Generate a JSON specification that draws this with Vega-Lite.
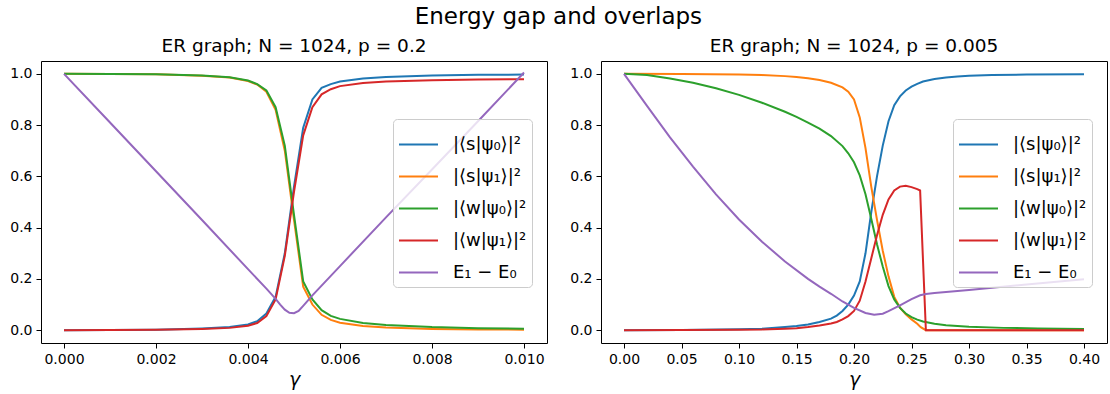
{
  "$schema": "https://vega.github.io/schema/vega-lite/v6.json",
  "padding": {"left": 9, "top": 6, "right": 0, "bottom": 0},
  "title": {"text": "Energy gap and overlaps", "fontSize": 23, "fontWeight": "normal", "font": "DejaVu Sans", "color": "#000", "anchor": "middle", "offset": 7},
  "datasets": {
    "left": [
      {"g":0,"v":0,"s":"s0"},{"g":0.001,"v":0.0005,"s":"s0"},{"g":0.002,"v":0.002,"s":"s0"},{"g":0.003,"v":0.007,"s":"s0"},{"g":0.0036,"v":0.012,"s":"s0"},{"g":0.004,"v":0.022,"s":"s0"},{"g":0.0042,"v":0.035,"s":"s0"},{"g":0.0044,"v":0.065,"s":"s0"},{"g":0.0046,"v":0.13,"s":"s0"},{"g":0.0048,"v":0.3,"s":"s0"},{"g":0.005,"v":0.56,"s":"s0"},{"g":0.0052,"v":0.79,"s":"s0"},{"g":0.0054,"v":0.9,"s":"s0"},{"g":0.0056,"v":0.945,"s":"s0"},{"g":0.0058,"v":0.96,"s":"s0"},{"g":0.006,"v":0.97,"s":"s0"},{"g":0.0065,"v":0.982,"s":"s0"},{"g":0.007,"v":0.988,"s":"s0"},{"g":0.008,"v":0.993,"s":"s0"},{"g":0.009,"v":0.996,"s":"s0"},{"g":0.01,"v":0.997,"s":"s0"},
      {"g":0,"v":1,"s":"s1"},{"g":0.001,"v":0.9995,"s":"s1"},{"g":0.002,"v":0.998,"s":"s1"},{"g":0.003,"v":0.992,"s":"s1"},{"g":0.0036,"v":0.986,"s":"s1"},{"g":0.004,"v":0.972,"s":"s1"},{"g":0.0042,"v":0.958,"s":"s1"},{"g":0.0044,"v":0.93,"s":"s1"},{"g":0.0046,"v":0.86,"s":"s1"},{"g":0.0048,"v":0.7,"s":"s1"},{"g":0.005,"v":0.43,"s":"s1"},{"g":0.0052,"v":0.17,"s":"s1"},{"g":0.0054,"v":0.1,"s":"s1"},{"g":0.0056,"v":0.06,"s":"s1"},{"g":0.0058,"v":0.04,"s":"s1"},{"g":0.006,"v":0.029,"s":"s1"},{"g":0.0065,"v":0.016,"s":"s1"},{"g":0.007,"v":0.01,"s":"s1"},{"g":0.008,"v":0.005,"s":"s1"},{"g":0.009,"v":0.003,"s":"s1"},{"g":0.01,"v":0.002,"s":"s1"},
      {"g":0,"v":1,"s":"w0"},{"g":0.001,"v":0.9996,"s":"w0"},{"g":0.002,"v":0.998,"s":"w0"},{"g":0.003,"v":0.993,"s":"w0"},{"g":0.0036,"v":0.987,"s":"w0"},{"g":0.004,"v":0.974,"s":"w0"},{"g":0.0042,"v":0.96,"s":"w0"},{"g":0.0044,"v":0.935,"s":"w0"},{"g":0.0046,"v":0.87,"s":"w0"},{"g":0.0048,"v":0.72,"s":"w0"},{"g":0.005,"v":0.45,"s":"w0"},{"g":0.0052,"v":0.19,"s":"w0"},{"g":0.0054,"v":0.12,"s":"w0"},{"g":0.0056,"v":0.078,"s":"w0"},{"g":0.0058,"v":0.056,"s":"w0"},{"g":0.006,"v":0.044,"s":"w0"},{"g":0.0065,"v":0.028,"s":"w0"},{"g":0.007,"v":0.02,"s":"w0"},{"g":0.008,"v":0.012,"s":"w0"},{"g":0.009,"v":0.008,"s":"w0"},{"g":0.01,"v":0.006,"s":"w0"},
      {"g":0,"v":0,"s":"w1"},{"g":0.001,"v":0.0003,"s":"w1"},{"g":0.002,"v":0.0015,"s":"w1"},{"g":0.003,"v":0.005,"s":"w1"},{"g":0.0036,"v":0.009,"s":"w1"},{"g":0.004,"v":0.017,"s":"w1"},{"g":0.0042,"v":0.028,"s":"w1"},{"g":0.0044,"v":0.055,"s":"w1"},{"g":0.0046,"v":0.12,"s":"w1"},{"g":0.0048,"v":0.29,"s":"w1"},{"g":0.005,"v":0.54,"s":"w1"},{"g":0.0052,"v":0.76,"s":"w1"},{"g":0.0054,"v":0.87,"s":"w1"},{"g":0.0056,"v":0.92,"s":"w1"},{"g":0.0058,"v":0.94,"s":"w1"},{"g":0.006,"v":0.952,"s":"w1"},{"g":0.0065,"v":0.964,"s":"w1"},{"g":0.007,"v":0.97,"s":"w1"},{"g":0.008,"v":0.975,"s":"w1"},{"g":0.009,"v":0.978,"s":"w1"},{"g":0.01,"v":0.979,"s":"w1"},
      {"g":0,"v":1,"s":"E"},{"g":0.001,"v":0.81,"s":"E"},{"g":0.002,"v":0.62,"s":"E"},{"g":0.003,"v":0.43,"s":"E"},{"g":0.004,"v":0.238,"s":"E"},{"g":0.0044,"v":0.162,"s":"E"},{"g":0.0046,"v":0.122,"s":"E"},{"g":0.0047,"v":0.1,"s":"E"},{"g":0.0048,"v":0.08,"s":"E"},{"g":0.0049,"v":0.068,"s":"E"},{"g":0.0050,"v":0.066,"s":"E"},{"g":0.0051,"v":0.075,"s":"E"},{"g":0.0052,"v":0.095,"s":"E"},{"g":0.0054,"v":0.136,"s":"E"},{"g":0.0056,"v":0.174,"s":"E"},{"g":0.006,"v":0.25,"s":"E"},{"g":0.007,"v":0.44,"s":"E"},{"g":0.008,"v":0.627,"s":"E"},{"g":0.009,"v":0.815,"s":"E"},{"g":0.01,"v":1.005,"s":"E"}
    ],
    "right": [
      {"g":0,"v":0,"s":"s0"},{"g":0.05,"v":0.001,"s":"s0"},{"g":0.1,"v":0.004,"s":"s0"},{"g":0.12,"v":0.006,"s":"s0"},{"g":0.14,"v":0.012,"s":"s0"},{"g":0.15,"v":0.016,"s":"s0"},{"g":0.16,"v":0.022,"s":"s0"},{"g":0.17,"v":0.032,"s":"s0"},{"g":0.18,"v":0.045,"s":"s0"},{"g":0.185,"v":0.057,"s":"s0"},{"g":0.19,"v":0.075,"s":"s0"},{"g":0.195,"v":0.1,"s":"s0"},{"g":0.2,"v":0.135,"s":"s0"},{"g":0.205,"v":0.19,"s":"s0"},{"g":0.21,"v":0.3,"s":"s0"},{"g":0.215,"v":0.46,"s":"s0"},{"g":0.22,"v":0.6,"s":"s0"},{"g":0.225,"v":0.72,"s":"s0"},{"g":0.23,"v":0.815,"s":"s0"},{"g":0.235,"v":0.878,"s":"s0"},{"g":0.24,"v":0.912,"s":"s0"},{"g":0.245,"v":0.935,"s":"s0"},{"g":0.25,"v":0.95,"s":"s0"},{"g":0.255,"v":0.961,"s":"s0"},{"g":0.26,"v":0.97,"s":"s0"},{"g":0.27,"v":0.98,"s":"s0"},{"g":0.28,"v":0.986,"s":"s0"},{"g":0.29,"v":0.99,"s":"s0"},{"g":0.3,"v":0.992,"s":"s0"},{"g":0.32,"v":0.995,"s":"s0"},{"g":0.35,"v":0.997,"s":"s0"},{"g":0.4,"v":0.998,"s":"s0"},
      {"g":0,"v":1,"s":"s1"},{"g":0.05,"v":0.999,"s":"s1"},{"g":0.1,"v":0.997,"s":"s1"},{"g":0.12,"v":0.995,"s":"s1"},{"g":0.14,"v":0.991,"s":"s1"},{"g":0.15,"v":0.988,"s":"s1"},{"g":0.16,"v":0.983,"s":"s1"},{"g":0.17,"v":0.976,"s":"s1"},{"g":0.18,"v":0.965,"s":"s1"},{"g":0.19,"v":0.947,"s":"s1"},{"g":0.195,"v":0.93,"s":"s1"},{"g":0.2,"v":0.9,"s":"s1"},{"g":0.205,"v":0.83,"s":"s1"},{"g":0.21,"v":0.71,"s":"s1"},{"g":0.215,"v":0.56,"s":"s1"},{"g":0.22,"v":0.43,"s":"s1"},{"g":0.225,"v":0.31,"s":"s1"},{"g":0.23,"v":0.21,"s":"s1"},{"g":0.235,"v":0.13,"s":"s1"},{"g":0.24,"v":0.088,"s":"s1"},{"g":0.245,"v":0.062,"s":"s1"},{"g":0.25,"v":0.042,"s":"s1"},{"g":0.255,"v":0.025,"s":"s1"},{"g":0.258,"v":0.012,"s":"s1"},{"g":0.2625,"v":0,"s":"s1"},{"g":0.3,"v":0,"s":"s1"},{"g":0.4,"v":0,"s":"s1"},
      {"g":0,"v":1,"s":"w0"},{"g":0.02,"v":0.995,"s":"w0"},{"g":0.04,"v":0.982,"s":"w0"},{"g":0.06,"v":0.965,"s":"w0"},{"g":0.08,"v":0.944,"s":"w0"},{"g":0.1,"v":0.918,"s":"w0"},{"g":0.12,"v":0.887,"s":"w0"},{"g":0.14,"v":0.852,"s":"w0"},{"g":0.15,"v":0.832,"s":"w0"},{"g":0.16,"v":0.81,"s":"w0"},{"g":0.17,"v":0.786,"s":"w0"},{"g":0.18,"v":0.757,"s":"w0"},{"g":0.19,"v":0.718,"s":"w0"},{"g":0.195,"v":0.69,"s":"w0"},{"g":0.2,"v":0.655,"s":"w0"},{"g":0.205,"v":0.604,"s":"w0"},{"g":0.21,"v":0.53,"s":"w0"},{"g":0.215,"v":0.435,"s":"w0"},{"g":0.22,"v":0.335,"s":"w0"},{"g":0.225,"v":0.248,"s":"w0"},{"g":0.23,"v":0.172,"s":"w0"},{"g":0.235,"v":0.12,"s":"w0"},{"g":0.24,"v":0.087,"s":"w0"},{"g":0.245,"v":0.065,"s":"w0"},{"g":0.25,"v":0.051,"s":"w0"},{"g":0.255,"v":0.041,"s":"w0"},{"g":0.26,"v":0.034,"s":"w0"},{"g":0.27,"v":0.025,"s":"w0"},{"g":0.28,"v":0.019,"s":"w0"},{"g":0.3,"v":0.013,"s":"w0"},{"g":0.33,"v":0.009,"s":"w0"},{"g":0.36,"v":0.007,"s":"w0"},{"g":0.4,"v":0.005,"s":"w0"},
      {"g":0,"v":0,"s":"w1"},{"g":0.05,"v":0.0003,"s":"w1"},{"g":0.1,"v":0.002,"s":"w1"},{"g":0.12,"v":0.003,"s":"w1"},{"g":0.14,"v":0.006,"s":"w1"},{"g":0.15,"v":0.008,"s":"w1"},{"g":0.16,"v":0.012,"s":"w1"},{"g":0.17,"v":0.018,"s":"w1"},{"g":0.18,"v":0.026,"s":"w1"},{"g":0.185,"v":0.032,"s":"w1"},{"g":0.19,"v":0.042,"s":"w1"},{"g":0.195,"v":0.055,"s":"w1"},{"g":0.2,"v":0.075,"s":"w1"},{"g":0.205,"v":0.115,"s":"w1"},{"g":0.21,"v":0.19,"s":"w1"},{"g":0.215,"v":0.28,"s":"w1"},{"g":0.22,"v":0.37,"s":"w1"},{"g":0.225,"v":0.45,"s":"w1"},{"g":0.23,"v":0.51,"s":"w1"},{"g":0.235,"v":0.545,"s":"w1"},{"g":0.24,"v":0.56,"s":"w1"},{"g":0.245,"v":0.563,"s":"w1"},{"g":0.25,"v":0.558,"s":"w1"},{"g":0.255,"v":0.55,"s":"w1"},{"g":0.2575,"v":0.545,"s":"w1"},{"g":0.2625,"v":0,"s":"w1"},{"g":0.3,"v":0,"s":"w1"},{"g":0.4,"v":0,"s":"w1"},
      {"g":0,"v":1,"s":"E"},{"g":0.02,"v":0.875,"s":"E"},{"g":0.04,"v":0.752,"s":"E"},{"g":0.06,"v":0.638,"s":"E"},{"g":0.08,"v":0.53,"s":"E"},{"g":0.1,"v":0.432,"s":"E"},{"g":0.12,"v":0.345,"s":"E"},{"g":0.14,"v":0.268,"s":"E"},{"g":0.16,"v":0.2,"s":"E"},{"g":0.17,"v":0.17,"s":"E"},{"g":0.18,"v":0.142,"s":"E"},{"g":0.19,"v":0.112,"s":"E"},{"g":0.2,"v":0.087,"s":"E"},{"g":0.21,"v":0.067,"s":"E"},{"g":0.2175,"v":0.06,"s":"E"},{"g":0.225,"v":0.064,"s":"E"},{"g":0.23,"v":0.074,"s":"E"},{"g":0.24,"v":0.097,"s":"E"},{"g":0.25,"v":0.121,"s":"E"},{"g":0.2575,"v":0.136,"s":"E"},{"g":0.2625,"v":0.141,"s":"E"},{"g":0.27,"v":0.145,"s":"E"},{"g":0.3,"v":0.157,"s":"E"},{"g":0.35,"v":0.178,"s":"E"},{"g":0.4,"v":0.199,"s":"E"}
    ]
  },
  "hconcat": [
    {
      "title": {"text": "ER graph; N = 1024, p = 0.2"},
      "width": 506, "height": 282,
      "data": {"name": "left"},
      "mark": {"type": "line", "strokeWidth": 2},
      "encoding": {
        "x": {"field": "g", "type": "quantitative", "scale": {"domain": [-0.0005, 0.0105], "nice": false, "zero": false}, "axis": {"values": [0, 0.002, 0.004, 0.006, 0.008, 0.01], "format": ".3f", "title": "γ"}},
        "y": {"field": "v", "type": "quantitative", "scale": {"domain": [-0.05, 1.05], "nice": false}, "axis": {"values": [0, 0.2, 0.4, 0.6, 0.8, 1.0], "format": ".1f", "title": null}},
        "color": {"field": "s", "type": "nominal", "sort": null, "scale": {"domain": ["s0", "s1", "w0", "w1", "E"], "range": ["#1f77b4", "#ff7f0e", "#2ca02c", "#d62728", "#9467bd"]}, "legend": {"orient": "none", "legendX": 352, "legendY": 58, "labelExpr": "{'s0':'|⟨s|ψ₀⟩|²','s1':'|⟨s|ψ₁⟩|²','w0':'|⟨w|ψ₀⟩|²','w1':'|⟨w|ψ₁⟩|²','E':'E₁ − E₀'}[datum.value]"}}
      }
    },
    {
      "title": {"text": "ER graph; N = 1024, p = 0.005"},
      "width": 506, "height": 282,
      "data": {"name": "right"},
      "mark": {"type": "line", "strokeWidth": 2},
      "encoding": {
        "x": {"field": "g", "type": "quantitative", "scale": {"domain": [-0.02, 0.42], "nice": false, "zero": false}, "axis": {"values": [0, 0.05, 0.1, 0.15, 0.2, 0.25, 0.3, 0.35, 0.4], "format": ".2f", "title": "γ"}},
        "y": {"field": "v", "type": "quantitative", "scale": {"domain": [-0.05, 1.05], "nice": false}, "axis": {"values": [0, 0.2, 0.4, 0.6, 0.8, 1.0], "format": ".1f", "title": null}},
        "color": {"field": "s", "type": "nominal", "sort": null, "scale": {"domain": ["s0", "s1", "w0", "w1", "E"], "range": ["#1f77b4", "#ff7f0e", "#2ca02c", "#d62728", "#9467bd"]}, "legend": {"orient": "none", "legendX": 352, "legendY": 58, "labelExpr": "{'s0':'|⟨s|ψ₀⟩|²','s1':'|⟨s|ψ₁⟩|²','w0':'|⟨w|ψ₀⟩|²','w1':'|⟨w|ψ₁⟩|²','E':'E₁ − E₀'}[datum.value]"}}
      }
    }
  ],
  "spacing": 21,
  "resolve": {"scale": {"color": "independent"}, "legend": {"color": "independent"}},
  "config": {
    "font": "DejaVu Sans",
    "view": {"stroke": "#000", "strokeWidth": 1},
    "title": {"fontSize": 18.5, "fontWeight": "normal", "color": "#000", "offset": 6},
    "axis": {"grid": false, "domain": false, "tickColor": "#000", "tickSize": 5, "labelFontSize": 14, "labelColor": "#000", "labelPadding": 4, "titleFontSize": 19, "titleFontWeight": "normal", "titleFontStyle": "italic", "titleColor": "#000", "titlePadding": 4},
    "legend": {"title": null, "fillColor": "rgba(255,255,255,0.8)", "strokeColor": "#cccccc", "cornerRadius": 4, "padding": 5, "labelFontSize": 18, "labelColor": "#000", "symbolType": "stroke", "symbolSize": 1521, "symbolStrokeWidth": 2, "labelOffset": 14, "rowPadding": 2}
  }
}
